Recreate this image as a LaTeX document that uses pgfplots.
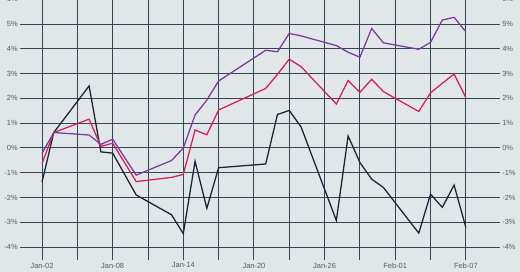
\documentclass[border=0pt]{standalone}
\usepackage{pgfplots}
\pgfplotsset{compat=1.18}
\usepackage{fontspec}
\setmainfont{Liberation Sans}
\definecolor{bg}{RGB}{225,230,233}
\definecolor{gridc}{RGB}{52,70,86}
\definecolor{labc}{RGB}{85,94,102}
\definecolor{cblack}{RGB}{26,36,52}
\definecolor{cred}{RGB}{214,32,92}
\definecolor{cpurple}{RGB}{124,58,156}
\pgfplotstableread{
d v
0 -1.38
1 0.62
4 2.50
5 -0.16
6 -0.21
8 -1.90
11 -2.70
12 -3.46
13 -0.54
14 -2.44
15 -0.80
19 -0.65
20 1.35
21 1.51
22 0.85
25 -2.93
26 0.48
27 -0.59
28 -1.26
29 -1.60
32 -3.44
33 -1.87
34 -2.40
35 -1.50
36 -3.21
}\tblack
\pgfplotstableread{
d v
0 -0.63
1 0.62
4 1.16
5 0.06
6 0.19
8 -1.36
11 -1.19
12 -1.07
13 0.72
14 0.53
15 1.53
19 2.40
20 2.97
21 3.58
22 3.28
25 1.77
26 2.72
27 2.24
28 2.77
29 2.27
32 1.47
33 2.22
34 2.61
35 2.98
36 2.03
}\tred
\pgfplotstableread{
d v
0 -0.22
1 0.62
4 0.52
5 0.14
6 0.35
8 -1.10
11 -0.51
12 -0.01
13 1.33
14 1.93
15 2.70
19 3.94
20 3.88
21 4.62
22 4.52
25 4.13
26 3.86
27 3.66
28 4.82
29 4.24
32 3.98
33 4.26
34 5.16
35 5.27
36 4.69
}\tpurple
\begin{document}
\begin{tikzpicture}
\path[use as bounding box, fill=bg] (-15pt,-9pt) rectangle (375pt,194.9pt);
\pgfplotsset{
  common/.style={
    scale only axis, width=360pt, height=196.4pt,
    xmin=-1.87, xmax=38.9, ymin=-4.52, ymax=6.05,
    ytick={-4,-3,-2,-1,0,1,2,3,4,5,6},
    yticklabels={-4\%,-3\%,-2\%,-1\%,0\%,1\%,2\%,3\%,4\%,5\%,6\%},
    major tick length=0pt,
    tick label style={font=\fontsize{5.6}{6}\selectfont, text=labc},
    axis line style={draw=none},
    tick style={draw=none},
  }
}
\begin{axis}[common,
  xtick={0,3,...,36},
  xticklabels={Jan-02,,Jan-08,,Jan-14,,Jan-20,,Jan-26,,Feb-01,,Feb-07},
  xticklabel style={inner sep=1pt, yshift=-1pt},
  yticklabel style={inner sep=1.5pt},
  grid=major,
  major grid style={draw=gridc, line width=0.7pt},
  axis background/.style={fill=bg},
]
\addplot[cblack, line width=0.95pt] table[x=d,y=v] {\tblack};
\addplot[cred, line width=0.95pt] table[x=d,y=v] {\tred};
\addplot[cpurple, line width=0.95pt] table[x=d,y=v] {\tpurple};
\end{axis}
\begin{axis}[common,
  xtick=\empty,
  yticklabel pos=right,
  yticklabel style={inner sep=1.5pt},
]
\end{axis}
\end{tikzpicture}
\end{document}
